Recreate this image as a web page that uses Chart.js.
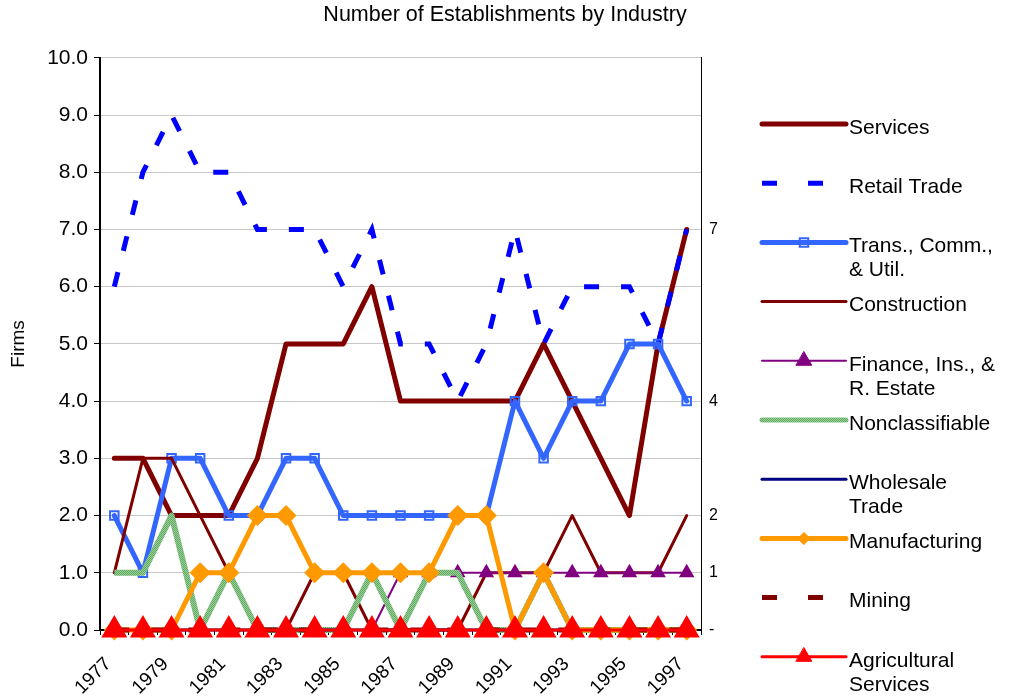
<!DOCTYPE html>
<html lang="en">
<head>
    <meta charset="UTF-8">
    <title>Number of Establishments by Industry</title>
    <script src="https://cdn.jsdelivr.net/npm/chart.js"></script>
    <style>
        body {
            margin: 0;
            background-color: #ffffff;
        }
        .chart-box {
            width: 1010px;
            height: 698px;
            position: relative;
        }
    </style>
</head>
<body>

<div class="chart-box">
    <canvas id="firmsChart"></canvas>
</div>

<script>
    const years = ['1977', '1978', '1979', '1980', '1981', '1982', '1983', '1984', '1985', '1986', '1987',
                   '1988', '1989', '1990', '1991', '1992', '1993', '1994', '1995', '1996', '1997'];

    const services      = [3, 3, 2, 2, 2, 3, 5, 5, 5, 6, 4, 4, 4, 4, 4, 5, 4, 3, 2, 5, 7];
    const retailTrade   = [6, 8, 9, 8, 8, 7, 7, 7, 6, 7, 5, 5, 4, 5, 7, 5, 6, 6, 6, 5, 7];
    const transComm     = [2, 1, 3, 3, 2, 2, 3, 3, 2, 2, 2, 2, 2, 2, 4, 3, 4, 4, 5, 5, 4];
    const construction  = [1, 3, 3, 2, 1, 0, 0, 1, 1, 0, 0, 0, 0, 1, 1, 1, 2, 1, 1, 1, 2];
    const finance       = [0, 0, 0, 0, 0, 0, 0, 0, 0, 0, 1, 1, 1, 1, 1, 1, 1, 1, 1, 1, 1];
    const nonclass      = [1, 1, 2, 0, 1, 0, 0, 0, 0, 1, 0, 1, 1, 0, 0, 1, 0, 0, 0, 0, 0];
    const wholesale     = [0, 0, 0, 0, 0, 0, 0, 0, 0, 0, 0, 0, 0, 0, 0, 0, 0, 0, 0, 0, 0];
    const manufacturing = [0, 0, 0, 1, 1, 2, 2, 1, 1, 1, 1, 1, 2, 2, 0, 1, 0, 0, 0, 0, 0];
    const mining        = [0, 0, 0, 0, 0, 0, 0, 0, 0, 0, 0, 0, 0, 0, 0, 0, 0, 0, 0, 0, 0];
    const agriServices  = [0, 0, 0, 0, 0, 0, 0, 0, 0, 0, 0, 0, 0, 0, 0, 0, 0, 0, 0, 0, 0];

    // legend text, two-line entries as arrays
    const seriesNames = ['Services', 'Retail Trade', ['Trans., Comm.,', '& Util.'], 'Construction',
                         ['Finance, Ins., &', 'R. Estate'], 'Nonclassifiable', ['Wholesale', 'Trade'],
                         'Manufacturing', 'Mining', ['Agricultural', 'Services']];

    // values shown at the right edge (last year)
    const rightTicks = [0, 1, 2, 4, 7];

    const FONT = "'Liberation Sans', Arial, Helvetica, sans-serif";

    // speckled green for Nonclassifiable
    function greenPattern() {
        const c = document.createElement('canvas');
        c.width = 4;
        c.height = 4;
        const g = c.getContext('2d');
        g.fillStyle = '#9ccd9c';
        g.fillRect(0, 0, 4, 4);
        g.fillStyle = '#5eab5e';
        for (let y = 0; y < 4; y++) {
            for (let x = 0; x < 4; x++) {
                if ((x + y) % 2 === 0) g.fillRect(x, y, 1, 1);
            }
        }
        return g.createPattern(c, 'repeat');
    }
    const nonclassColor = greenPattern();

    function line(data, color, width, extra) {
        return Object.assign({
            data: data,
            borderColor: color,
            backgroundColor: color,
            borderWidth: width,
            pointRadius: 0,
            pointHoverRadius: 0,
            borderJoinStyle: 'round',
            borderCapStyle: 'round',
            fill: false,
            tension: 0,
            clip: false
        }, extra || {});
    }

    const datasets = [
        line(services, '#800000', 5),
        line(retailTrade, '#0000ff', 5, { borderDash: [15, 22], borderCapStyle: 'butt', borderJoinStyle: 'miter' }),
        line(transComm, '#3366ff', 5, { pointStyle: 'rect', pointRadius: 6, pointBorderWidth: 2,
                                        pointBorderColor: '#3366ff', pointBackgroundColor: 'rgba(255,255,255,0)' }),
        line(construction, '#800000', 3),
        line(finance, '#800080', 2, { pointStyle: 'triangle', pointRadius: 7, pointBackgroundColor: '#800080' }),
        line(nonclass, nonclassColor, 6, { borderCapStyle: 'butt' }),
        line(wholesale, '#000080', 3),
        line(manufacturing, '#ff9900', 5, { pointStyle: 'rectRot', pointRadius: 7, pointBackgroundColor: '#ff9900' }),
        line(mining, '#800000', 5, { borderDash: [15, 22], borderCapStyle: 'butt' }),
        line(agriServices, '#ff0000', 3, { pointStyle: 'triangle', pointRadius: 12, pointBackgroundColor: '#ff0000' })
    ];
    // later series sit on top, like the original
    datasets.forEach((d, i) => {
        d.label = Array.isArray(seriesNames[i]) ? seriesNames[i].join(' ') : seriesNames[i];
        d.order = datasets.length - i;
    });

    const sideLegend = {
        id: 'sideLegend',
        afterDraw(chart) {
            const ctx = chart.ctx;
            ctx.save();
            datasets.forEach((d, i) => {
                const y = 124 + i * 59.2;
                ctx.strokeStyle = d.borderColor;
                ctx.lineWidth = Math.min(d.borderWidth, 5);
                ctx.lineCap = d.borderDash ? 'butt' : 'round';
                ctx.setLineDash(d.borderDash ? [15, 31] : []);
                ctx.beginPath();
                ctx.moveTo(762, y);
                ctx.lineTo(846, y);
                ctx.stroke();
                ctx.setLineDash([]);
                if (d.pointStyle) {
                    ctx.fillStyle = d.pointBackgroundColor;
                    ctx.strokeStyle = d.pointBorderColor || d.borderColor;
                    ctx.lineWidth = d.pointBorderWidth || 1;
                    Chart.helpers.drawPoint(ctx, {
                        pointStyle: d.pointStyle,
                        radius: d.pointStyle === 'triangle' ? 9 : 6,
                        borderWidth: d.pointBorderWidth || 1,
                        rotation: 0
                    }, 804, y);
                }
                const lines = [].concat(seriesNames[i]);
                ctx.fillStyle = '#000';
                ctx.font = '21px ' + FONT;
                ctx.textBaseline = 'middle';
                ctx.textAlign = 'left';
                lines.forEach((t, k) => ctx.fillText(t, 849, y + 4 + k * 24));
            });
            ctx.restore();
        }
    };

    new Chart(document.getElementById('firmsChart'), {
        type: 'line',
        data: { labels: years, datasets: datasets },
        options: {
            responsive: true,
            maintainAspectRatio: false,
            animation: false,
            layout: { padding: { left: 0, right: 0, top: 0, bottom: 0 } },
            plugins: {
                legend: { display: false },
                tooltip: { enabled: false },
                title: {
                    display: true,
                    text: 'Number of Establishments by Industry',
                    color: '#000',
                    font: { family: FONT, size: 21.5, weight: 'normal' },
                    padding: { top: 2, bottom: 30 }
                }
            },
            scales: {
                x: {
                    offset: true,
                    grid: { display: true, drawOnChartArea: false, offset: true, tickLength: 5, color: '#000' },
                    border: { color: '#000', width: 2 },
                    ticks: {
                        autoSkip: false,
                        maxRotation: 45,
                        minRotation: 45,
                        color: '#000',
                        padding: 18,
                        labelOffset: -6,
                        font: { family: FONT, size: 19 },
                        callback: (v, i) => i % 2 === 0 ? years[i] : ''
                    },
                    afterFit: s => { s.height = 68; }
                },
                y: {
                    min: 0,
                    max: 10,
                    ticks: {
                        stepSize: 1,
                        color: '#000',
                        padding: 6,
                        font: { family: FONT, size: 21 },
                        callback: v => v.toFixed(1)
                    },
                    grid: { color: '#c8c8c8', tickColor: '#000', tickLength: 6 },
                    border: { color: '#000', width: 2 },
                    title: {
                        display: true,
                        text: 'Firms',
                        color: '#000',
                        font: { family: FONT, size: 19 },
                        padding: { top: 7, bottom: 0 }
                    },
                    afterFit: s => { s.width = 100; }
                },
                y2: {
                    position: 'right',
                    min: 0,
                    max: 10,
                    afterBuildTicks: s => { s.ticks = rightTicks.map(v => ({ value: v })); },
                    ticks: {
                        color: '#000',
                        padding: 0,
                        font: { family: FONT, size: 16 },
                        callback: v => v === 0 ? '-' : String(v)
                    },
                    grid: { display: false },
                    border: { display: true, color: '#000', width: 1 },
                    afterFit: s => { s.width = 309; }
                }
            }
        },
        plugins: [sideLegend]
    });
</script>

</body>
</html>
